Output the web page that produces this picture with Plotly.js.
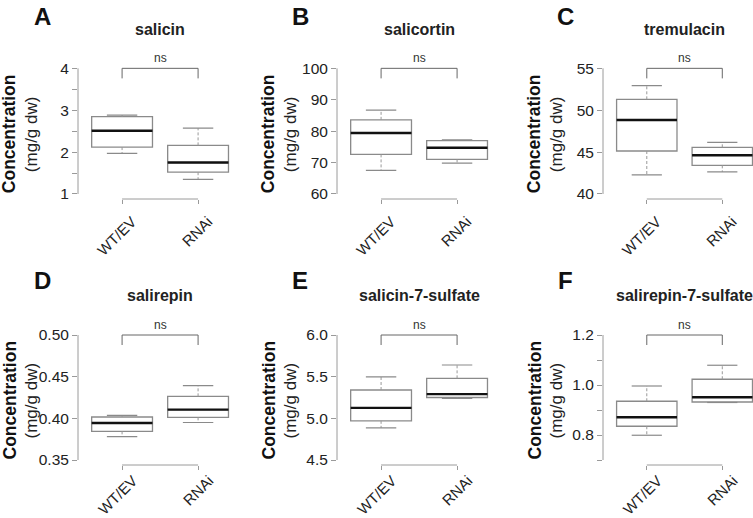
<!DOCTYPE html>
<html>
<head>
<meta charset="utf-8">
<script src="https://cdn.plot.ly/plotly-3.0.1.min.js"></script>
<style>html,body{margin:0;padding:0;background:#fff;}#chart{width:753px;height:518px;}</style>
</head>
<body>
<div id="chart"></div>
<script>
const compounds = ['salicin','salicortin','tremulacin','salirepin','salicin-7-sulfate','salirepin-7-sulfate'];
const panelLetters = ['A','B','C','D','E','F'];
const groups = ['WT/EV','RNAi'];
const groupPos = [1, 2];
const lowerWhisker = [[1.97,1.35],[67.5,69.8],[42.27,42.63],[0.378,0.395],[4.885,5.24],[0.799,0.930]];
const q1           = [[2.12,1.52],[72.6,71.0],[45.13,43.42],[0.3844,0.4012],[4.97,5.25],[0.835,0.932]];
const median       = [[2.51,1.75],[79.4,74.7],[48.83,44.62],[0.3944,0.4104],[5.125,5.29],[0.871,0.951]];
const q3           = [[2.845,2.16],[83.6,77.0],[51.3,45.57],[0.4016,0.4264],[5.34,5.48],[0.935,1.023]];
const upperWhisker = [[2.885,2.57],[86.7,77.2],[52.93,46.17],[0.4036,0.4392],[5.498,5.64],[0.996,1.079]];
const yTicks = [[1,1.5,2,2.5,3,3.5,4],[60,70,80,90,100],[40,45,50,55],[0.35,0.40,0.45,0.50],[4.5,5.0,5.5,6.0],[0.7,0.8,0.9,1.0,1.1,1.2]];
const yTickLabels = [['1','','2','','3','','4'],['60','70','80','90','100'],['40','45','50','55'],['0.35','0.40','0.45','0.50'],['4.5','5.0','5.5','6.0'],['','0.8','','1.0','','1.2']];
const significance = ['ns','ns','ns','ns','ns','ns'];

const W = 753, H = 518;
const FONT = 'Liberation Sans, Arial, sans-serif';
const GRAY = '#8a8a8a';
const AXC = '#9a9a9a';
const TXT = '#222';
// layout geometry (pixels)
const colAxisX = [78, 337, 603];
const pxPerUnit = [76, 76, 75.5];
const rowTop = [63.3, 330];
const rowBot = [199, 465];
const titleY = [29, 295];
const letterTop = [0.5, 265];
const letterX = [42, 300, 565];
const xLabelStandoff = [3, -4];
const xLabelShift = [10, 11];
const boxWidth = 0.8;
const capHalf = 0.2;

const data = [];
const layout = {
  width: W, height: H,
  margin: {l:0, r:0, t:0, b:0},
  paper_bgcolor: '#fff', plot_bgcolor: 'rgba(0,0,0,0)',
  showlegend: false,
  font: {family: FONT, color: TXT},
  shapes: [], annotations: []
};

compounds.forEach((name, i) => {
  const col = i % 3, row = Math.floor(i / 3);
  const n = i === 0 ? '' : String(i + 1);
  const xa = 'x' + n, ya = 'y' + n;
  const ticks = yTicks[i];
  const lo = ticks[0], hi = ticks[ticks.length - 1];
  const span = hi - lo;
  const x0px = colAxisX[col];
  const x1px = Math.min(W, x0px + 2.16 * pxPerUnit[col]);
  const xr0 = 0.42, xr1 = xr0 + (x1px - x0px) / pxPerUnit[col];

  layout['xaxis' + n] = {
    domain: [x0px / W, x1px / W], range: [xr0, xr1], anchor: ya,
    tickvals: groupPos, ticktext: groups, tickangle: -45,
    ticks: 'outside', ticklen: 4, tickcolor: AXC, tickwidth: 1,
    ticklabelshift: xLabelShift[row], ticklabelstandoff: xLabelStandoff[row],
    showline: false, showgrid: false, zeroline: false,
    tickfont: {size: 15, color: TXT, family: FONT}, fixedrange: true
  };
  layout['yaxis' + n] = {
    domain: [(H - rowBot[row]) / H, (H - rowTop[row]) / H],
    range: [lo - 0.04 * span, hi + 0.04 * span], anchor: xa,
    tickvals: ticks, ticktext: yTickLabels[i],
    ticks: 'outside', ticklen: 5, tickcolor: AXC, tickwidth: 1,
    showline: false, showgrid: false, zeroline: false,
    tickfont: {size: 15.5, color: TXT, family: FONT}, fixedrange: true
  };

  // box bodies
  data.push({
    type: 'box', xaxis: xa, yaxis: ya, x: groupPos,
    q1: q1[i], median: median[i], q3: q3[i],
    lowerfence: q1[i], upperfence: q3[i],
    width: boxWidth, whiskerwidth: 0,
    line: {color: GRAY, width: 1.3}, fillcolor: 'rgba(255,255,255,0)',
    boxpoints: false, hoverinfo: 'skip'
  });
  const sx = [], sy = [], cx = [], cy = [], mx = [], my = [];
  groupPos.forEach((p, g) => {
    sx.push(p, p, null, p, p, null);
    sy.push(q3[i][g], upperWhisker[i][g], null, q1[i][g], lowerWhisker[i][g], null);
    cx.push(p - capHalf, p + capHalf, null, p - capHalf, p + capHalf, null);
    cy.push(upperWhisker[i][g], upperWhisker[i][g], null, lowerWhisker[i][g], lowerWhisker[i][g], null);
    mx.push(p - boxWidth / 2, p + boxWidth / 2, null);
    my.push(median[i][g], median[i][g], null);
  });
  // dashed whisker stems
  data.push({type: 'scatter', mode: 'lines', xaxis: xa, yaxis: ya, x: sx, y: sy,
    line: {color: '#9a9a9a', width: 1, dash: '3px,2px'}, hoverinfo: 'skip', cliponaxis: false});
  // whisker caps
  data.push({type: 'scatter', mode: 'lines', xaxis: xa, yaxis: ya, x: cx, y: cy,
    line: {color: GRAY, width: 1.2}, hoverinfo: 'skip', cliponaxis: false});
  // medians
  data.push({type: 'scatter', mode: 'lines', xaxis: xa, yaxis: ya, x: mx, y: my,
    line: {color: '#111', width: 2.4}, hoverinfo: 'skip', cliponaxis: false});

  // R-style axis lines
  layout.shapes.push({type: 'line', xref: xa + ' domain', yref: ya, x0: 0, x1: 0, y0: lo, y1: hi,
    line: {color: AXC, width: 1}});
  layout.shapes.push({type: 'line', xref: xa, yref: ya + ' domain', x0: groupPos[0], x1: groupPos[1], y0: 0, y1: 0,
    line: {color: AXC, width: 1}});
  // significance bracket
  const arm = 0.08 * span;
  layout.shapes.push({type: 'path', xref: xa, yref: ya,
    path: `M ${groupPos[0]},${hi - arm} L ${groupPos[0]},${hi} L ${groupPos[1]},${hi} L ${groupPos[1]},${hi - arm}`,
    line: {color: '#666', width: 1}});
  layout.annotations.push({xref: xa, yref: ya, x: (groupPos[0] + groupPos[1]) / 2, y: hi,
    yanchor: 'bottom', yshift: 1, text: significance[i], showarrow: false,
    font: {size: 12, color: '#333', family: FONT}});

  // panel title
  layout.annotations.push({xref: xa, yref: 'paper', x: 1.5, y: (H - titleY[row]) / H,
    xanchor: 'center', yanchor: 'middle', text: '<b>' + name + '</b>', showarrow: false,
    font: {size: 16, color: TXT, family: FONT}});
  // panel letter
  layout.annotations.push({xref: 'paper', yref: 'paper', x: letterX[col] / W, y: (H - letterTop[row]) / H,
    xanchor: 'center', yanchor: 'top', text: '<b>' + panelLetters[i] + '</b>', showarrow: false,
    font: {size: 24, color: '#111', family: FONT}});
  // y axis title (two lines)
  layout.annotations.push({xref: xa + ' domain', yref: ya + ' domain', x: 0, y: 0.5, xshift: -69, yshift: -3,
    xanchor: 'center', yanchor: 'middle', textangle: -90, text: '<b>Concentration</b>', showarrow: false,
    font: {size: 17.5, color: '#111', family: FONT}});
  layout.annotations.push({xref: xa + ' domain', yref: ya + ' domain', x: 0, y: 0.5, xshift: -47, yshift: -3,
    xanchor: 'center', yanchor: 'middle', textangle: -90, text: '(mg/g dw)', showarrow: false,
    font: {size: 17, color: '#222', family: FONT}});
});

Plotly.newPlot('chart', data, layout, {staticPlot: true, displayModeBar: false});
</script>
</body>
</html>
